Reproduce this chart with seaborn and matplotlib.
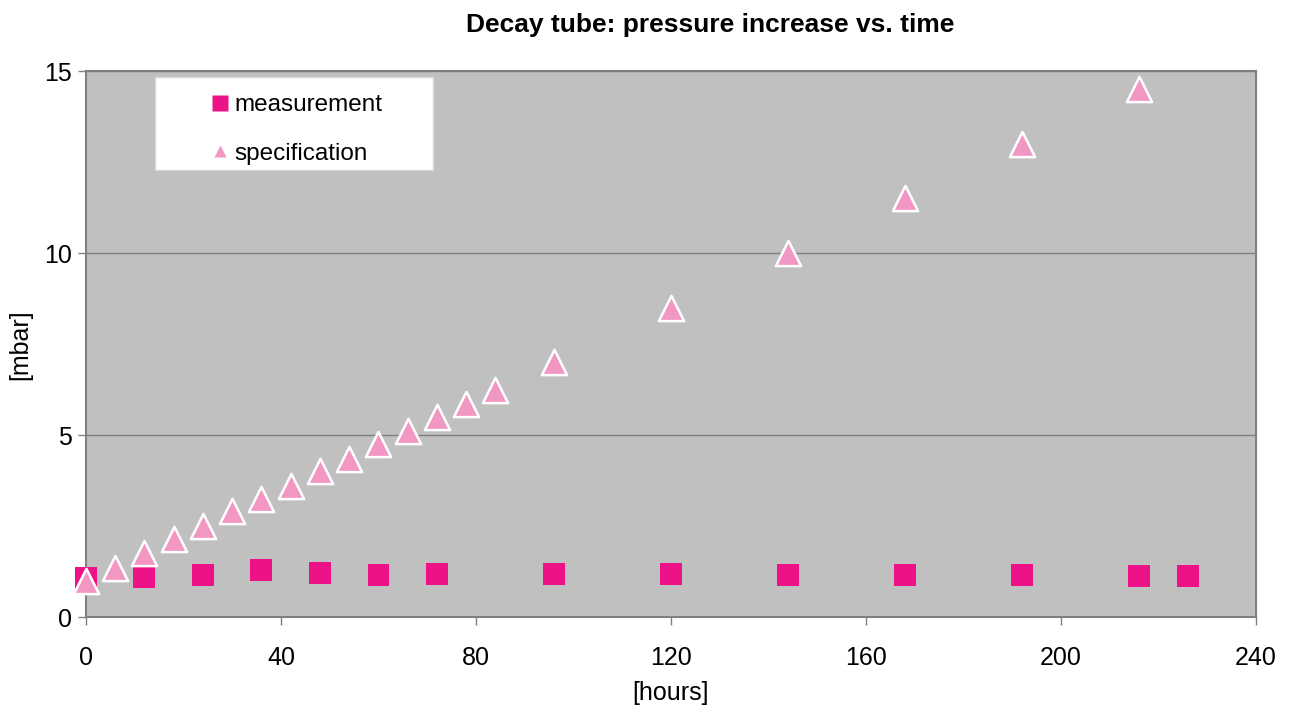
import pandas as pd
import seaborn as sns
import matplotlib.pyplot as plt
from matplotlib.patches import Rectangle

# measured pressure increase
meas_hours = [0, 12, 24, 36, 48, 60, 72, 96, 120, 144, 168, 192, 216, 226]
meas_mbar = [1.07, 1.1, 1.15, 1.29, 1.2, 1.15, 1.17, 1.17, 1.17, 1.15, 1.15, 1.15, 1.13, 1.13]

# specification
spec_hours = [0, 6, 12, 18, 24, 30, 36, 42, 48, 54, 60, 66, 72, 78, 84, 96, 120, 144, 168, 192, 216]
spec_mbar = [1.0, 1.35, 1.75, 2.15, 2.5, 2.9, 3.25, 3.6, 4.0, 4.35, 4.75, 5.1, 5.5, 5.85, 6.25,
             7.0, 8.5, 10.0, 11.5, 13.0, 14.5]

x_ticks = [0, 40, 80, 120, 160, 200, 240]
y_ticks = [0, 5, 10, 15]

sns.set_style('white')
plt.rcParams['font.family'] = ['Liberation Sans', 'DejaVu Sans']
plt.rcParams['text.color'] = 'black'
plt.rcParams['axes.labelcolor'] = 'black'

meas_df = pd.DataFrame({'hours': meas_hours, 'mbar': meas_mbar})
spec_df = pd.DataFrame({'hours': spec_hours, 'mbar': spec_mbar})

fig = plt.figure(figsize=(12.89, 7.13), dpi=100)
ax = fig.add_axes([0.0667, 0.1346, 0.9077, 0.7658])
ax.set_facecolor('#C0C0C0')

sns.scatterplot(data=meas_df, x='hours', y='mbar', ax=ax, marker='s', s=250,
                color='#EE1289', edgecolor='none', zorder=3, clip_on=False)
sns.scatterplot(data=spec_df, x='hours', y='mbar', ax=ax, marker='^', s=330,
                color='#F297C4', edgecolor='white', linewidth=1.8, zorder=4, clip_on=False)

ax.set_xlim(0, 240)
ax.set_ylim(0, 15)
ax.set_xticks(x_ticks)
ax.set_yticks(y_ticks)
ax.yaxis.grid(True, color='#808080', linewidth=1)
ax.set_axisbelow(True)
for sp in ax.spines.values():
    sp.set_color('#808080')
    sp.set_linewidth(1.5)
ax.tick_params(axis='both', direction='out', length=6, width=1, color='#808080',
               labelsize=18, bottom=True, left=True, labelcolor='black')
ax.tick_params(axis='x', pad=15)
ax.tick_params(axis='y', pad=4)

ax.set_xlabel('[hours]', fontsize=18, labelpad=8)
ax.set_ylabel('')
fig.text(0.016, 0.517, '[mbar]', rotation=90, ha='center', va='center', fontsize=18)

fig.text(0.551, 0.965, 'Decay tube: pressure increase vs. time', ha='center', va='center',
         fontsize=19, fontweight='bold')

# legend box
ax.add_patch(Rectangle((0.059, 0.8187), 0.2376, 0.1703, transform=ax.transAxes,
                       facecolor='white', edgecolor='#D8D8D8', linewidth=1, zorder=5))
handles = [
    plt.Line2D([], [], linestyle='none', marker='s', markersize=12, color='#EE1289',
               markeredgecolor='none', label='measurement'),
    plt.Line2D([], [], linestyle='none', marker='^', markersize=8, color='#F297C4',
               markeredgecolor='none', label='specification'),
]
leg = ax.legend(handles=handles, loc='upper left', bbox_to_anchor=(0.1017, 0.9575),
                frameon=False, fontsize=17.5, handletextpad=0.0,
                handlelength=1.2, borderpad=0, labelspacing=1.1,
                borderaxespad=0)
leg.set_zorder(6)

plt.savefig('out.png', dpi=100)
plt.close()
